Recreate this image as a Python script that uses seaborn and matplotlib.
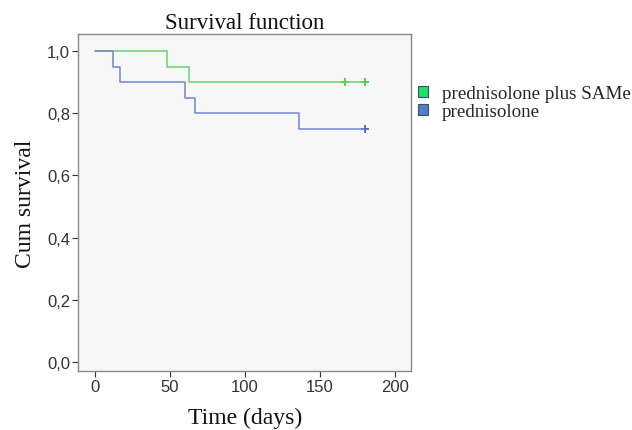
import matplotlib
matplotlib.use('Agg')
from matplotlib import pyplot as plt
from matplotlib.patches import Patch
import pandas as pd
import seaborn as sns

# Kaplan-Meier step values
green_t = [0, 48, 63, 180]
green_s = [1.0, 0.95, 0.90, 0.90]
blue_t = [0, 12, 17, 60, 67, 136, 180]
blue_s = [1.0, 0.95, 0.90, 0.85, 0.80, 0.75, 0.75]

# censored observations
green_cens_t = [167, 180]
green_cens_s = [0.90, 0.90]
blue_cens_t = [180]
blue_cens_s = [0.75]

groups = ['prednisolone plus SAMe', 'prednisolone']
y_ticks = [0.0, 0.2, 0.4, 0.6, 0.8, 1.0]
y_labels = ['0,0', '0,2', '0,4', '0,6', '0,8', '1,0']
x_ticks = [0, 50, 100, 150, 200]

green_line = '#66d466'
blue_line = '#7384d4'
green_box = '#22dd66'
blue_box = '#4f7fc4'

sns.set_style('ticks')
plt.rcParams['font.family'] = ['Liberation Sans', 'DejaVu Sans']
serif = 'Liberation Serif'

fig = plt.figure(figsize=(6.32, 4.31), dpi=100)
ax = fig.add_axes([0.124, 0.137, 0.527, 0.782])
ax.set_facecolor('#f7f7f7')

df_g = pd.DataFrame({'t': green_t, 's': green_s})
df_b = pd.DataFrame({'t': blue_t, 's': blue_s})
sns.lineplot(data=df_g, x='t', y='s', drawstyle='steps-post', estimator=None,
             color=green_line, linewidth=1.1, ax=ax)
sns.lineplot(data=df_b, x='t', y='s', drawstyle='steps-post', estimator=None,
             color=blue_line, linewidth=1.1, ax=ax)
sns.scatterplot(x=green_cens_t, y=green_cens_s, marker='+', color='#2ecc40',
                s=30, linewidth=1.2, ax=ax)
sns.scatterplot(x=blue_cens_t, y=blue_cens_s, marker='+', color='#3b55c0',
                s=30, linewidth=1.2, ax=ax)

ax.set_xlim(-11, 211)
ax.set_ylim(-0.029, 1.055)
ax.set_xticks(x_ticks)
ax.set_yticks(y_ticks)
ax.set_yticklabels(y_labels)
ax.tick_params(labelsize=12, colors='#333333', length=4, width=0.8, pad=2)
for sp in ax.spines.values():
    sp.set_visible(True)
    sp.set_color('#888888')
    sp.set_linewidth(1.0)

ax.set_xlabel('Time (days)', family=serif, fontsize=17, color='#111111', labelpad=9)
ax.set_ylabel('Cum survival', family=serif, fontsize=17, color='#111111', labelpad=8)
ax.set_title('Survival function', family=serif, fontsize=16.5, color='#111111', pad=4)

handles = [Patch(facecolor=green_box, edgecolor='#335566', linewidth=0.8),
           Patch(facecolor=blue_box, edgecolor='#335566', linewidth=0.8)]
fig.legend(handles, groups, loc='upper left', bbox_to_anchor=(0.661, 0.800),
           frameon=False, prop={'family': serif, 'size': 13.7}, borderpad=0,
           borderaxespad=0, handlelength=0.55, handleheight=0.55,
           handletextpad=0.7, labelspacing=0.05)

fig.savefig('out.png', dpi=100)
